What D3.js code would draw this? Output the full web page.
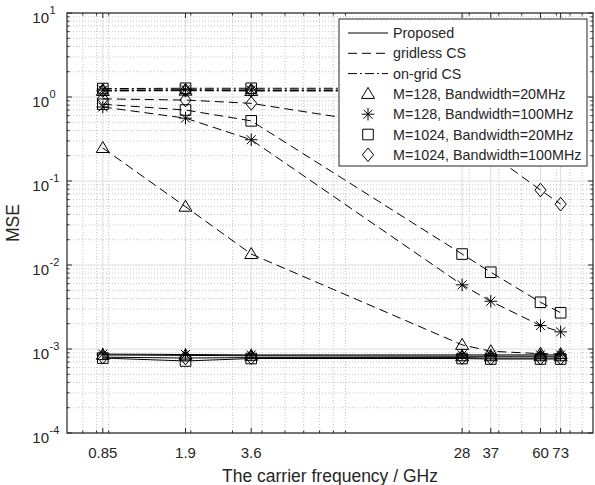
<!DOCTYPE html>
<html>
<head>
<meta charset="utf-8">
<script src="https://cdn.jsdelivr.net/npm/d3@7"></script>
<style>
  body { margin: 0; background: #fff; }
  text { font-family: "Liberation Sans", Arial, sans-serif; fill: #262626; }
</style>
</head>
<body>
<div id="chart"></div>
<script>
// carrier frequencies (GHz)
var freqs = [0.85, 1.9, 3.6, 28, 37, 60, 73];
var xTickLabels = ["0.85", "1.9", "3.6", "28", "37", "60", "73"];
var xMinorTicks = [0.7, 0.8, 0.9, 2, 3, 4, 5, 6, 7, 8, 9, 30, 40, 50, 60, 70, 80, 90];
var yDecades = [-4, -3, -2, -1, 0, 1];

// configs: marker per antenna / bandwidth setup
var configs = ["tri", "ast", "sq", "dia"];
var configNames = ["M=128, Bandwidth=20MHz", "M=128, Bandwidth=100MHz",
                   "M=1024, Bandwidth=20MHz", "M=1024, Bandwidth=100MHz"];

// Proposed (solid)
var proposedTri = [0.00085, 0.00084, 0.00083, 0.00082, 0.00082, 0.00082, 0.00082];
var proposedAst = [0.00087, 0.00086, 0.00085, 0.00085, 0.00085, 0.00085, 0.00085];
var proposedSq  = [0.00078, 0.00072, 0.00077, 0.00077, 0.00076, 0.00076, 0.00076];
var proposedDia = [0.0008, 0.00078, 0.00079, 0.00079, 0.00078, 0.00078, 0.00078];

// gridless CS (dashed)
var gridlessTri = [0.247, 0.0494, 0.0135, 0.00112, 0.00094, 0.00088, 0.00087];
var gridlessAst = [0.76, 0.56, 0.31, 0.0058, 0.0037, 0.0019, 0.0016];
var gridlessSq  = [0.82, 0.70, 0.52, 0.0135, 0.0082, 0.0036, 0.0027];
var gridlessDia = [0.95, 0.92, 0.84, 0.34, 0.21, 0.078, 0.053];

// on-grid CS (dash-dot)
var ongridTri = [1.18, 1.19, 1.18, 1.18, 1.18, 1.18, 1.18];
var ongridAst = [1.21, 1.22, 1.21, 1.21, 1.21, 1.21, 1.21];
var ongridSq  = [1.26, 1.27, 1.27, 1.27, 1.27, 1.27, 1.27];
var ongridDia = [1.19, 1.2, 1.2, 1.2, 1.2, 1.2, 1.2];

var methods = [
  {name: "Proposed",    dash: null,        series: [proposedTri, proposedAst, proposedSq, proposedDia]},
  {name: "gridless CS", dash: "9,5",       series: [gridlessTri, gridlessAst, gridlessSq, gridlessDia]},
  {name: "on-grid CS",  dash: "9,3,2,3",   series: [ongridTri, ongridAst, ongridSq, ongridDia]}
];

var W = 595, H = 485;
var margin = {left: 67, right: 2, top: 13, bottom: 52};
var pw = W - margin.left - margin.right, ph = H - margin.top - margin.bottom;

var x = d3.scaleLog().domain([0.6, 100]).range([0, pw]);
var y = d3.scaleLog().domain([1e-4, 10]).range([ph, 0]);

function markerPath(type) {
  switch (type) {
    case "tri": return "M0,-6.5L6.5,4.5L-6.5,4.5Z";
    case "sq":  return "M-5.3,-5.3L5.3,-5.3L5.3,5.3L-5.3,5.3Z";
    case "dia": return "M0,-6.8L5.6,0L0,6.8L-5.6,0Z";
    case "ast": return "M0,-6.3L0,6.3M-6.3,0L6.3,0M-4.5,-4.5L4.5,4.5M-4.5,4.5L4.5,-4.5";
  }
}

var svg = d3.select("#chart").append("svg").attr("width", W).attr("height", H);
var g = svg.append("g").attr("transform", "translate(" + margin.left + "," + margin.top + ")");

g.append("defs").append("clipPath").attr("id", "clip")
  .append("rect").attr("width", pw).attr("height", ph);

// grid: minor dotted, then major solid
var yMinor = [];
yDecades.slice(0, -1).forEach(function(d) {
  for (var k = 2; k <= 9; k++) yMinor.push(k * Math.pow(10, d));
});
var yMajor = yDecades.map(function(d) { return Math.pow(10, d); });

var grid = g.append("g");
grid.selectAll(".xmin").data(xMinorTicks).enter().append("line")
  .attr("x1", d => x(d)).attr("x2", d => x(d)).attr("y1", 0).attr("y2", ph)
  .attr("stroke", "#c4c4c4").attr("stroke-dasharray", "1,2");
grid.selectAll(".ymin").data(yMinor).enter().append("line")
  .attr("y1", d => y(d)).attr("y2", d => y(d)).attr("x1", 0).attr("x2", pw)
  .attr("stroke", "#c4c4c4").attr("stroke-dasharray", "1,2");
grid.selectAll(".xmaj").data(freqs).enter().append("line")
  .attr("x1", d => x(d)).attr("x2", d => x(d)).attr("y1", 0).attr("y2", ph)
  .attr("stroke", "#dedede");
grid.selectAll(".ymaj").data(yMajor).enter().append("line")
  .attr("y1", d => y(d)).attr("y2", d => y(d)).attr("x1", 0).attr("x2", pw)
  .attr("stroke", "#dedede");

// data
var plot = g.append("g").attr("clip-path", "url(#clip)");
var line = d3.line().x(d => x(d[0])).y(d => y(d[1]));
methods.forEach(function(m) {
  m.series.forEach(function(vals, i) {
    var pts = freqs.map((f, j) => [f, vals[j]]);
    plot.append("path").datum(pts).attr("d", line)
      .attr("fill", "none").attr("stroke", "#000").attr("stroke-width", 1)
      .attr("stroke-dasharray", m.dash);
    plot.selectAll(null).data(pts).enter().append("path")
      .attr("d", markerPath(configs[i]))
      .attr("transform", d => "translate(" + x(d[0]) + "," + y(d[1]) + ")")
      .attr("fill", "none").attr("stroke", "#000").attr("stroke-width", 1);
  });
});

// axes box + ticks (inward, on all sides)
var axc = "#262626";
g.append("rect").attr("width", pw).attr("height", ph)
  .attr("fill", "none").attr("stroke", axc).attr("stroke-width", 1.2);

var ticks = g.append("g").attr("stroke", axc).attr("stroke-width", 1);
function xTick(v, len) {
  ticks.append("line").attr("x1", x(v)).attr("x2", x(v)).attr("y1", ph).attr("y2", ph - len);
  ticks.append("line").attr("x1", x(v)).attr("x2", x(v)).attr("y1", 0).attr("y2", len);
}
function yTick(v, len) {
  ticks.append("line").attr("y1", y(v)).attr("y2", y(v)).attr("x1", 0).attr("x2", len);
  ticks.append("line").attr("y1", y(v)).attr("y2", y(v)).attr("x1", pw).attr("x2", pw - len);
}
xMinorTicks.forEach(v => xTick(v, 2.5));
freqs.forEach(v => xTick(v, 5));
yMinor.forEach(v => yTick(v, 2.5));
yMajor.forEach(v => yTick(v, 5));

// tick labels
g.selectAll(".xl").data(freqs).enter().append("text")
  .attr("x", d => x(d)).attr("y", ph + 25).attr("text-anchor", "middle")
  .style("font-size", "15px").text((d, i) => xTickLabels[i]);

var yl = g.selectAll(".yl").data(yDecades).enter().append("g")
  .attr("transform", d => "translate(0," + y(Math.pow(10, d)) + ")");
yl.append("text").attr("x", -18).attr("y", 9.5).attr("text-anchor", "end")
  .style("font-size", "15px").text("10");
yl.append("text").attr("x", -17.5).attr("y", 1).attr("text-anchor", "start")
  .style("font-size", "11px").text(d => String(d));

// axis titles
svg.append("text").attr("x", margin.left + pw / 2).attr("y", 482)
  .attr("text-anchor", "middle").style("font-size", "17.5px")
  .text("The carrier frequency / GHz");
svg.append("text").attr("transform", "translate(19," + (margin.top + ph / 2) + ") rotate(-90)")
  .attr("text-anchor", "middle").style("font-size", "17.5px").text("MSE");

// legend
var lg = svg.append("g").attr("transform", "translate(339,19)");
lg.append("rect").attr("width", 248).attr("height", 147)
  .attr("fill", "#fff").attr("stroke", axc).attr("stroke-width", 1);
var rowY = function(i) { return 14 + i * 20.3; };
methods.forEach(function(m, i) {
  lg.append("line").attr("x1", 9).attr("x2", 49).attr("y1", rowY(i)).attr("y2", rowY(i))
    .attr("stroke", "#000").attr("stroke-width", 1).attr("stroke-dasharray", m.dash);
  lg.append("text").attr("x", 54).attr("y", rowY(i) + 5).style("font-size", "14.3px").text(m.name);
});
configs.forEach(function(c, i) {
  var r = i + 3;
  lg.append("path").attr("d", markerPath(c))
    .attr("transform", "translate(29," + rowY(r) + ")")
    .attr("fill", "none").attr("stroke", "#000").attr("stroke-width", 1);
  lg.append("text").attr("x", 54).attr("y", rowY(r) + 5).style("font-size", "14.3px").text(configNames[i]);
});
</script>
</body>
</html>
